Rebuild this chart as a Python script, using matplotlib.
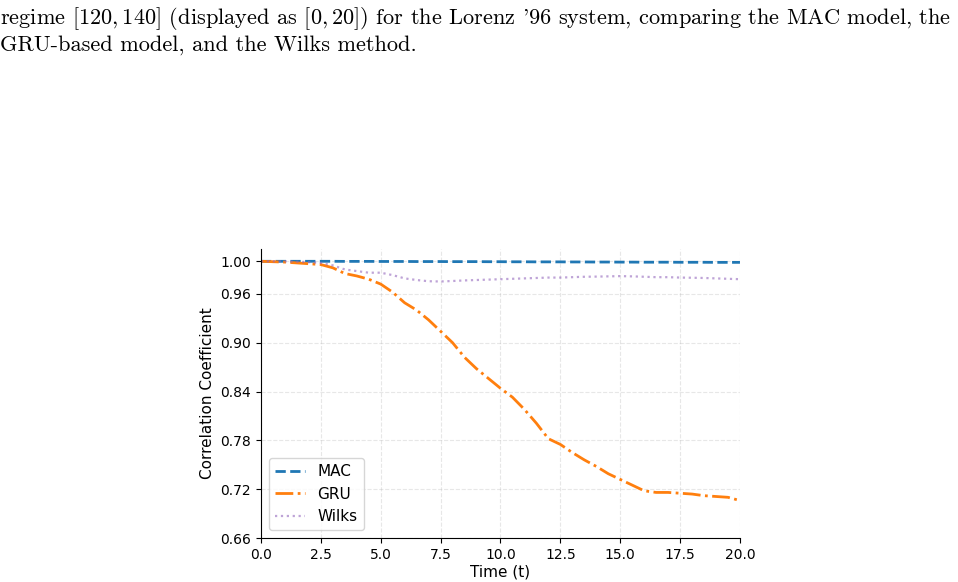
import matplotlib
matplotlib.use("Agg")
import matplotlib.pyplot as plt

plt.rcParams['mathtext.fontset'] = 'cm'

# time grid and correlation values
t = [0, 1, 2, 2.5, 3, 3.5, 4, 4.5, 5, 5.5, 6, 6.5, 7, 7.5, 8, 8.5, 9, 9.5, 10,
     10.5, 11, 11.5, 12, 12.5, 13, 13.5, 14, 14.5, 15, 15.5, 16, 16.5, 17, 17.5,
     18, 18.5, 19, 19.5, 20]
mac = [1.0, 1.0, 1.0, 1.0, 1.0, 0.9999, 0.9999, 0.9999, 0.9998, 0.9998, 0.9998,
       0.9997, 0.9997, 0.9997, 0.9996, 0.9996, 0.9996, 0.9995, 0.9995, 0.9994,
       0.9994, 0.9993, 0.9993, 0.9993, 0.9992, 0.9992, 0.9991, 0.9991, 0.9990,
       0.9990, 0.9989, 0.9989, 0.9989, 0.9988, 0.9988, 0.9988, 0.9987, 0.9987, 0.9987]
gru = [1.0, 0.999, 0.997, 0.996, 0.992, 0.985, 0.982, 0.978, 0.972, 0.962, 0.949,
       0.940, 0.928, 0.914, 0.900, 0.882, 0.868, 0.856, 0.844, 0.833, 0.818, 0.801,
       0.782, 0.775, 0.765, 0.756, 0.748, 0.739, 0.732, 0.725, 0.718, 0.716, 0.716,
       0.715, 0.714, 0.712, 0.711, 0.710, 0.706]
wilks = [1.0, 1.0, 0.999, 0.998, 0.995, 0.990, 0.988, 0.986, 0.986, 0.983, 0.979,
         0.977, 0.9755, 0.9752, 0.9758, 0.9765, 0.977, 0.9775, 0.978, 0.9785, 0.979,
         0.9795, 0.980, 0.980, 0.9805, 0.981, 0.9812, 0.9815, 0.9818, 0.9815, 0.981,
         0.9805, 0.9805, 0.980, 0.9798, 0.9795, 0.979, 0.9785, 0.978]

yticks = [0.66, 0.72, 0.78, 0.84, 0.90, 0.96, 1.00]

fig = plt.figure(figsize=(9.58, 5.82), dpi=100)

# caption fragment from the paper page
fig.text(0.0, 0.969, r"regime $[120, 140]$ (displayed as $[0, 20]$) for the Lorenz '96 system, comparing the MAC model, the",
         family='cmr10', fontsize=16.1, va='center', ha='left')
fig.text(0.0, 0.922, "GRU-based model, and the Wilks method.",
         family='cmr10', fontsize=16.1, va='center', ha='left')

ax = fig.add_axes([0.2724, 0.0756, 0.5, 0.4964])
ax.plot(t, mac, '--', color='#1f77b4', lw=2, label='MAC')
ax.plot(t, gru, '-.', color='#ff7f0e', lw=2, label='GRU')
ax.plot(t, wilks, ':', color='#9467bd', alpha=0.6, lw=1.6, label='Wilks')

ax.set_xlim(0, 20)
ax.set_ylim(0.66, 1.015)
ax.set_yticks(yticks)
ax.set_yticklabels([f"{v:.2f}" for v in yticks])
ax.set_xlabel("Time (t)", fontsize=11, labelpad=2)
ax.set_ylabel("Correlation Coefficient", fontsize=11)
ax.tick_params(labelsize=10)
ax.grid(True, linestyle='--', alpha=0.3)
ax.spines['top'].set_visible(False)
ax.spines['right'].set_visible(False)
ax.legend(loc='lower left', fontsize=11)

fig.savefig("out.png", dpi=100)
